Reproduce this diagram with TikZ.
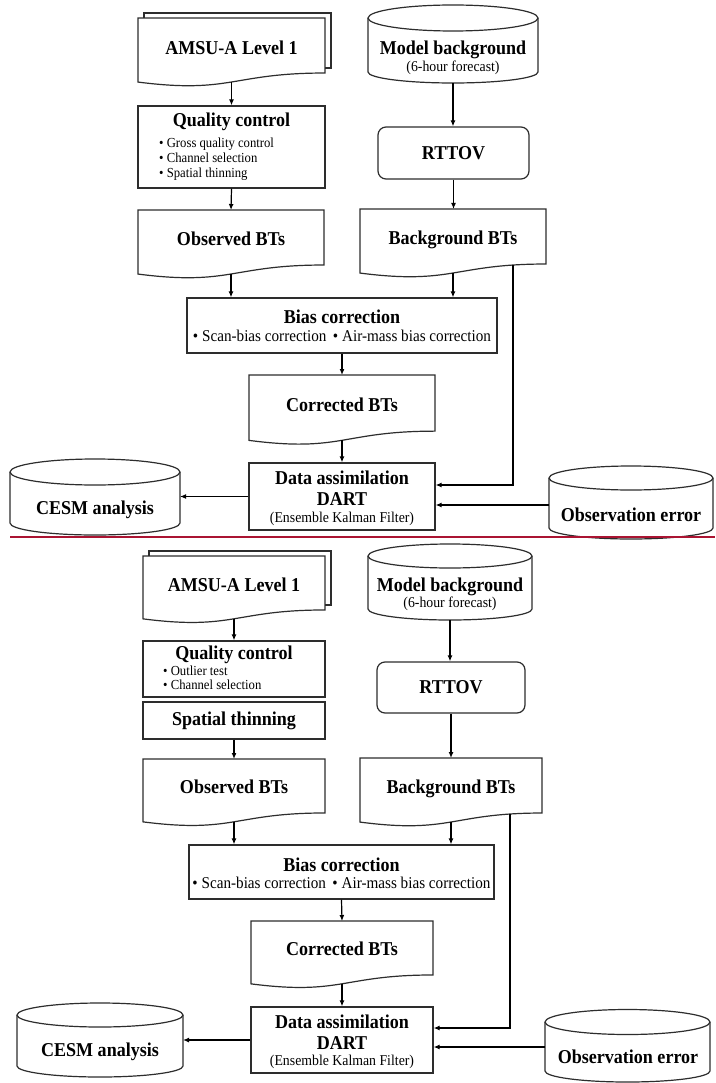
\documentclass[tikz,border=0pt]{standalone}
\usepackage{fontspec}
\setmainfont[FakeStretch=0.92]{Liberation Serif}
\usetikzlibrary{arrows.meta}
\definecolor{redline}{RGB}{170,20,50}
\definecolor{outl}{RGB}{45,45,45}

\newcommand{\mkdoc}[5]{% name, x1, top, x2, H
  \pgfmathsetmacro{\dxm}{(#2+#4)/2}
  \pgfmathsetmacro{\dyr}{#3+0.802*#5}
  \pgfmathsetmacro{\dyc}{#3+1.1075*#5}
  \pgfmathsetmacro{\dyl}{#3+0.934*#5}
  \draw[shp] (#2,#3) -- (#4,#3) -- (#4,\dyr) .. controls (\dxm,\dyr) and (\dxm,\dyc) .. (#2,\dyl) -- cycle;
  \coordinate (#1-t) at (\dxm,#3);
  \coordinate (#1-b) at (\dxm,{#3+0.933*#5});
}
\newcommand{\mkmdoc}[5]{% multi-document
  \draw[shp] ({#2+6},#3) -- ({#2+6},{#3-5}) -- ({#4+6},{#3-5}) -- ({#4+6},{#3+0.802*#5-5}) -- (#4,{#3+0.802*#5-5});
  \mkdoc{#1}{#2}{#3}{#4}{#5}%
}
\newcommand{\mkcyl}[7]{% name, x1, x2, ytop, rytop, ybot, rybot
  \pgfmathsetmacro{\cxc}{(#2+#3)/2}
  \pgfmathsetmacro{\crx}{(#3-#2)/2}
  \draw[shp] (\cxc,#4) ellipse [x radius=\crx pt, y radius=#5pt];
  \draw[shp] (#2,#4) -- (#2,#6) arc[start angle=180, end angle=360, x radius=\crx pt, y radius=#7pt] -- (#3,#4);
  \coordinate (#1-l) at (#2,{(#4+#6)/2});
  \coordinate (#1-r) at (#3,{(#4+#6)/2});
  \coordinate (#1-b) at (\cxc,{#6+#7});
}

\begin{document}
\begin{tikzpicture}[x=1pt,y=-1pt,
  shp/.style={draw=outl, line width=1.2pt},
  box/.style={shp, rectangle, inner sep=0pt},
  arr/.style={-{Latex[length=6pt,width=5pt]}, line width=1.2pt, black},
  tt/.style={font=\bfseries\fontsize{19.6}{22}\selectfont, anchor=base, inner sep=0pt},
  st/.style={font=\fontsize{13.8}{15}\selectfont, anchor=base west, inner sep=0pt},
  sp/.style={font=\fontsize{15}{16}\selectfont, anchor=base, inner sep=0pt},
  sb/.style={font=\fontsize{16.5}{18}\selectfont, anchor=base, inner sep=0pt}]
\fill[white] (0,0) rectangle (715,1083);
\useasboundingbox (0,0) rectangle (715,1083);

% ================= TOP HALF =================
\mkmdoc{amsuA}{138}{18}{325}{68.6}
\node[tt] (amsuAt) at (231.5,54.5) {AMSU-A Level 1};

\node[box, minimum width=187pt, minimum height=82pt] (qcA) at (231.5,147) {};
\node[tt] (qcAt) at (231.5,126.5) {Quality control};
\node[st] (qcA1) at (159,147.5) {• Gross quality control};
\node[st] (qcA2) at (159,162.5) {• Channel selection};
\node[st] (qcA3) at (159,177.5) {• Spatial thinning};

\mkdoc{obsA}{138}{210}{324}{68.6}
\node[tt] (obsAt) at (231,245.5) {Observed BTs};

\mkcyl{modA}{368}{538}{18}{13}{72}{11}
\node[tt] (modAt) at (453,54.5) {Model background};
\node[sp] (modAs) at (453,71.5) {(6-hour forecast)};

\node[box, rounded corners=8pt, minimum width=151pt, minimum height=52pt,
      font=\bfseries\fontsize{19.6}{22}\selectfont] (rtA) at (453.5,153) {RTTOV};

\mkdoc{bgA}{360}{209}{546}{68.6}
\node[tt] (bgAt) at (453,244.5) {Background BTs};

\node[box, minimum width=310pt, minimum height=55pt] (biasA) at (342,325.5) {};
\node[tt] (biasAt) at (342,323.5) {Bias correction};
\node[sb] (biasAs) at (342,341) {• Scan-bias correction \,• Air-mass bias correction};

\mkdoc{corA}{249}{375}{435}{70}
\node[tt] (corAt) at (342,411) {Corrected BTs};

\node[box, minimum width=186pt, minimum height=67pt] (daA) at (342,496.5) {};
\node[tt] (daAt1) at (342,484.5) {Data assimilation};
\node[tt] (daAt2) at (342,505.5) {DART};
\node[sp] (daAt3) at (342,522.5) {(Ensemble Kalman Filter)};

\mkcyl{cesmA}{10}{180}{472}{13}{523}{12}
\node[tt] (cesmAt) at (95,514) {CESM analysis};

\mkcyl{oeA}{549}{713}{478}{12}{528}{11}
\node[tt] (oeAt) at (631,521.5) {Observation error};

\draw[arr] (amsuA-b) -- (amsuA-b |- qcA.north);
\draw[arr] (qcA.south) -- (obsA-t);
\draw[arr] (obsA-b) -- (obsA-b |- biasA.north);
\draw[arr] (modA-b) -- (modA-b |- rtA.north);
\draw[arr] (rtA.south) -- (rtA.south |- bgA-t);
\draw[arr] (bgA-b) -- (bgA-b |- biasA.north);
\draw[arr] (biasA.south) -- (corA-t);
\draw[arr] (corA-b) -- (daA.north);
\draw[arr] (daA.west) -- (daA.west -| cesmA-r);
\coordinate (bgAr) at (513,265);
\coordinate (jA) at (513,485);
\draw[arr] (bgAr) -- (jA) -- (jA -| daA.east);
\coordinate (oeAin) at (549,505);
\draw[arr] (oeAin) -- (oeAin -| daA.east);

% ================= BOTTOM HALF =================
\mkmdoc{amsuB}{143}{556}{325}{67.3}
\node[tt] (amsuBt) at (234,591.5) {AMSU-A Level 1};

\node[box, minimum width=182pt, minimum height=56pt] (qcB) at (234,669) {};
\node[tt] (qcBt) at (234,659.5) {Quality control};
\node[st] (qcB1) at (163,675.5) {• Outlier test};
\node[st] (qcB2) at (163,689.5) {• Channel selection};

\node[box, minimum width=182pt, minimum height=37pt,
      font=\bfseries\fontsize{19.6}{22}\selectfont] (stB) at (234,720.5) {Spatial thinning};

\mkdoc{obsB}{143}{759}{325}{67.3}
\node[tt] (obsBt) at (234,793.5) {Observed BTs};

\mkcyl{modB}{368}{532}{556}{12}{609}{11}
\node[tt] (modBt) at (450,591.5) {Model background};
\node[sp] (modBs) at (450,607.5) {(6-hour forecast)};

\node[box, rounded corners=8pt, minimum width=148pt, minimum height=51pt,
      font=\bfseries\fontsize{19.6}{22}\selectfont] (rtB) at (451,687.5) {RTTOV};

\mkdoc{bgB}{360}{758}{542}{68.6}
\node[tt] (bgBt) at (451,793.5) {Background BTs};

\node[box, minimum width=305pt, minimum height=54pt] (biasB) at (341.5,872) {};
\node[tt] (biasBt) at (341.5,871.5) {Bias correction};
\node[sb] (biasBs) at (341.5,888) {• Scan-bias correction \,• Air-mass bias correction};

\mkdoc{corB}{251}{921}{433}{67.3}
\node[tt] (corBt) at (342,955.5) {Corrected BTs};

\node[box, minimum width=182pt, minimum height=66pt] (daB) at (342,1040) {};
\node[tt] (daBt1) at (342,1028.5) {Data assimilation};
\node[tt] (daBt2) at (342,1049.5) {DART};
\node[sp] (daBt3) at (342,1065.5) {(Ensemble Kalman Filter)};

\mkcyl{cesmB}{17}{183}{1015}{12}{1066}{11}
\node[tt] (cesmBt) at (100,1056) {CESM analysis};

\mkcyl{oeB}{545}{710}{1022}{12.5}{1071}{11}
\node[tt] (oeBt) at (628,1063.5) {Observation error};

\draw[arr] (amsuB-b) -- (amsuB-b |- qcB.north);
\draw[arr] (stB.south) -- (obsB-t);
\draw[arr] (obsB-b) -- (obsB-b |- biasB.north);
\draw[arr] (modB-b) -- (modB-b |- rtB.north);
\draw[arr] (rtB.south) -- (rtB.south |- bgB-t);
\draw[arr] (bgB-b) -- (bgB-b |- biasB.north);
\draw[arr] (biasB.south) -- (corB-t);
\draw[arr] (corB-b) -- (daB.north);
\draw[arr] (daB.west) -- (daB.west -| cesmB-r);
\coordinate (bgBr) at (510,814);
\coordinate (jB) at (510,1028);
\draw[arr] (bgBr) -- (jB) -- (jB -| daB.east);
\coordinate (oeBin) at (545,1047);
\draw[arr] (oeBin) -- (oeBin -| daB.east);

% separator
\coordinate (rl1) at (10,537);
\coordinate (rl2) at (715,537);
\draw[redline, line width=2.5pt] (rl1) -- (rl2);
\end{tikzpicture}
\end{document}
